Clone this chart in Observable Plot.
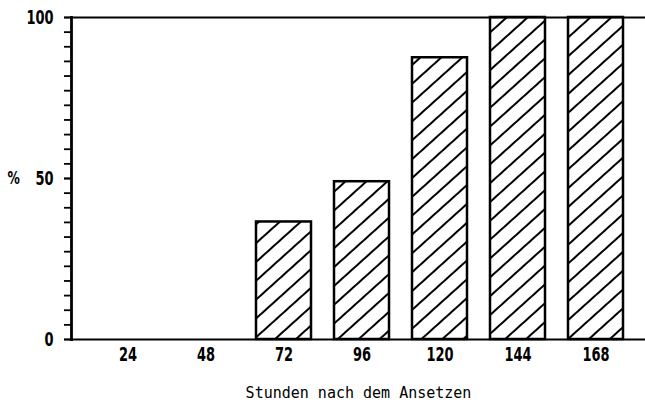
<!DOCTYPE html>
<html>
<head>
<meta charset="utf-8">
<script src="https://cdn.jsdelivr.net/npm/d3@7"></script>
<script src="https://cdn.jsdelivr.net/npm/@observablehq/plot@0.6"></script>
<style>
  html, body { margin: 0; padding: 0; background: #fff; }
</style>
</head>
<body>
<div id="chart"></div>
<script>
const hours = ["24", "48", "72", "96", "120", "144", "168"];
const percent = [0, 0, 36.5, 49, 87.5, 100, 100];
const yTickLabels = [0, 50, 100];
const yMinorTicks = d3.range(0, 100.001, 50 / 11);
const xLabel = "Stunden nach dem Ansetzen";
const yLabel = "%";

const data = hours.map((h, i) => ({hour: h, value: percent[i]}));

const tickFont = "'DejaVu Sans Condensed', 'DejaVu Sans', sans-serif";

const chart = Plot.plot({
  width: 645,
  height: 402,
  marginTop: 17,
  marginBottom: 63,
  marginLeft: 71,
  marginRight: 0,
  style: {background: "#fff", color: "#000", overflow: "visible"},
  x: {domain: hours, paddingInner: 0.3, paddingOuter: 0.287, align: 0.564, label: null},
  y: {domain: [0, 100], label: null},
  marks: [
    Plot.barY(data, {
      x: "hour", y: "value",
      fill: "url(#hatch)", stroke: "#000", strokeWidth: 2.5
    }),
    Plot.axisY(yMinorTicks, {tickSize: 7, strokeWidth: 1.8, tickFormat: () => ""}),
    Plot.axisY(yTickLabels, {
      tickSize: 7, tickPadding: 11, strokeWidth: 1.8,
      fontFamily: tickFont, fontSize: 19, fontWeight: "bold"
    }),
    Plot.axisX({
      tickSize: 0, tickPadding: 8,
      fontFamily: tickFont, fontSize: 19, fontWeight: "bold",
      label: xLabel, labelAnchor: "center", labelOffset: 58, labelArrow: "none"
    }),
    Plot.frame({anchor: "left", strokeWidth: 2.8}),
    Plot.frame({anchor: "top", strokeWidth: 2.2}),
    Plot.frame({anchor: "bottom", strokeWidth: 2}),
    Plot.text([yLabel], {
      frameAnchor: "left", dx: -64, text: d => d,
      fontFamily: tickFont, fontSize: 18, fontWeight: "bold"
    })
  ]
});

// hatch pattern definition
const ns = "http://www.w3.org/2000/svg";
const defs = document.createElementNS(ns, "defs");
const pattern = document.createElementNS(ns, "pattern");
pattern.setAttribute("id", "hatch");
pattern.setAttribute("patternUnits", "userSpaceOnUse");
pattern.setAttribute("width", "14");
pattern.setAttribute("height", "14");
pattern.setAttribute("patternTransform", "rotate(48)");
const bg = document.createElementNS(ns, "rect");
bg.setAttribute("width", "14");
bg.setAttribute("height", "14");
bg.setAttribute("fill", "#fff");
const line = document.createElementNS(ns, "line");
line.setAttribute("x1", "2"); line.setAttribute("y1", "-1");
line.setAttribute("x2", "2"); line.setAttribute("y2", "15");
line.setAttribute("stroke", "#000");
line.setAttribute("stroke-width", "2");
pattern.appendChild(bg);
pattern.appendChild(line);
defs.appendChild(pattern);
chart.insertBefore(defs, chart.firstChild);

// style texts: narrow the bold tick labels, restyle the axis title
const isNum = v => v != null && v !== "" && !isNaN(+v);
chart.querySelectorAll("text").forEach(t => {
  if (t.textContent === xLabel) {
    t.setAttribute("font-family", "'DejaVu Sans Mono', monospace");
    t.setAttribute("font-size", "15");
    t.setAttribute("font-weight", "normal");
  } else {
    const xa = t.getAttribute("x");
    const ya = t.getAttribute("y");
    let tx = 0, ty = 0;
    if (isNum(xa)) { tx = +xa; t.removeAttribute("x"); }
    if (isNum(ya)) { ty = +ya; t.removeAttribute("y"); }
    const prior = t.getAttribute("transform") || "";
    t.setAttribute("transform", `${prior} translate(${tx},${ty}) scale(0.76,1)`);
  }
});

document.getElementById("chart").appendChild(chart);
</script>
</body>
</html>
